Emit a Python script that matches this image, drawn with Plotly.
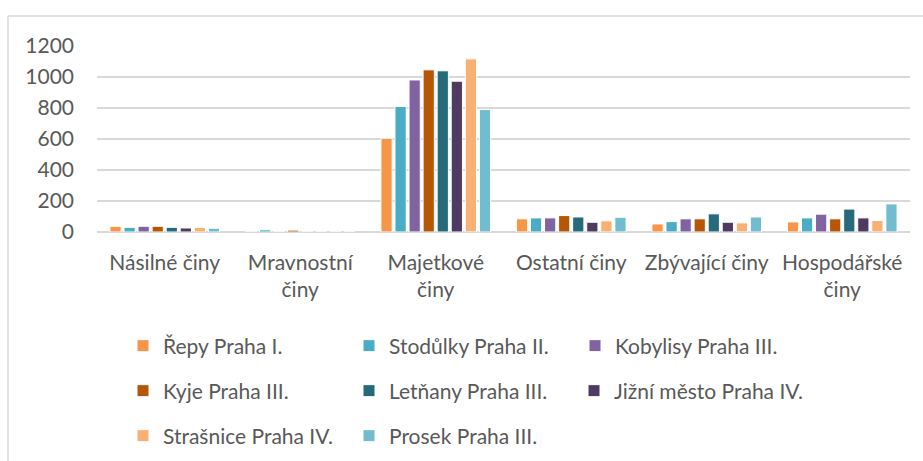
import plotly.graph_objects as go

CATEGORIES = ["Násilné činy", "Mravnostní činy", "Majetkové činy",
              "Ostatní činy", "Zbývající činy", "Hospodářské činy"]
TICK_TEXT = ["Násilné činy", "Mravnostní<br>činy", "Majetkové<br>činy",
             "Ostatní činy", "Zbývající činy", "Hospodářské<br>činy"]

repy      = [37, 5, 605, 85, 52, 65]
stodulky  = [30, 14, 810, 91, 67, 91]
kobylisy  = [37, 0, 981, 91, 85, 115]
kyje      = [37, 12, 1046, 106, 85, 85]
letnany   = [30, 0, 1040, 97, 117, 148]
jizni     = [26, 0, 973, 63, 63, 91]
strasnice = [30, 0, 1117, 72, 59, 74]
prosek    = [24, 0, 790, 95, 97, 181]

Y_TICKS = [0, 200, 400, 600, 800, 1000, 1200]

# name, values, colour, legend box it is listed in
SERIES = [
    ("Řepy Praha I.", repy, "#F79646", "legend"),
    ("Stodůlky Praha II.", stodulky, "#4BACC6", "legend"),
    ("Kobylisy Praha III.", kobylisy, "#8064A2", "legend"),
    ("Kyje Praha III.", kyje, "#B65708", "legend2"),
    ("Letňany Praha III.", letnany, "#276A7C", "legend2"),
    ("Jižní město Praha IV.", jizni, "#4D3B62", "legend4"),
    ("Strašnice Praha IV.", strasnice, "#F9B074", "legend3"),
    ("Prosek Praha III.", prosek, "#72BCD0", "legend3"),
]

# page geometry (px)
W, H = 923, 461
ML, MR, MT, MB = 97, 13, 46, 229
PW, PH = W - ML - MR, H - MT - MB

def px_x(x):
    return (x - ML) / PW

def px_y(y):
    return (H - MB - y) / PH

TEXT = "#595959"
FONT = "Lato, 'Open Sans', sans-serif"

fig = go.Figure()
for name, vals, color, lg in SERIES:
    fig.add_trace(go.Bar(
        x=CATEGORIES, y=vals, name=name, legend=lg,
        marker=dict(color=color, line=dict(color="white", width=1)),
    ))

legend_common = dict(
    orientation="h", xanchor="left", yanchor="middle",
    entrywidth=181, entrywidthmode="pixels",
    font=dict(family=FONT, size=21, color=TEXT),
    bgcolor="rgba(0,0,0,0)", traceorder="normal",
)

fig.update_layout(
    width=W, height=H,
    margin=dict(l=ML, r=MR, t=MT, b=MB, autoexpand=False),
    paper_bgcolor="white", plot_bgcolor="white",
    font=dict(family=FONT, size=21, color=TEXT),
    barmode="group", bargap=0.17, bargroupgap=0.2,
    showlegend=True,
    legend=dict(x=px_x(123), y=px_y(346), **legend_common),
    legend2=dict(x=px_x(123), y=px_y(391), **legend_common),
    legend3=dict(x=px_x(123), y=px_y(436), **legend_common),
    # last entry of row 2 is wider than a column, give it its own box
    legend4=dict(x=px_x(574), y=px_y(391),
                 **{**legend_common, "entrywidth": 0}),
    xaxis=dict(
        tickvals=CATEGORIES, ticktext=TICK_TEXT,
        showgrid=False, showline=False, ticks="",
        ticklabelstandoff=16,
        tickfont=dict(family=FONT, size=21, color=TEXT),
    ),
    yaxis=dict(
        range=[0, 1200], tickvals=Y_TICKS,
        showgrid=True, gridcolor="#d9d9d9", gridwidth=1.5,
        zeroline=True, zerolinecolor="#d9d9d9", zerolinewidth=1.5,
        showline=False, ticks="", ticklabelstandoff=22,
        tickfont=dict(family=FONT, size=21, color=TEXT),
    ),
    shapes=[
        dict(type="line", xref="paper", yref="paper",
             x0=px_x(8), x1=px_x(W), y0=px_y(16), y1=px_y(16),
             line=dict(color="#d9d9d9", width=1.5)),
        dict(type="line", xref="paper", yref="paper",
             x0=px_x(8), x1=px_x(8), y0=px_y(16), y1=px_y(H),
             line=dict(color="#d9d9d9", width=1.5)),
    ],
)

# drop the browser's default 8px body margin so the figure sits at (0, 0)
fig.write_html("out.html", config={"displayModeBar": False},
               post_script="document.body.style.margin='0';")
